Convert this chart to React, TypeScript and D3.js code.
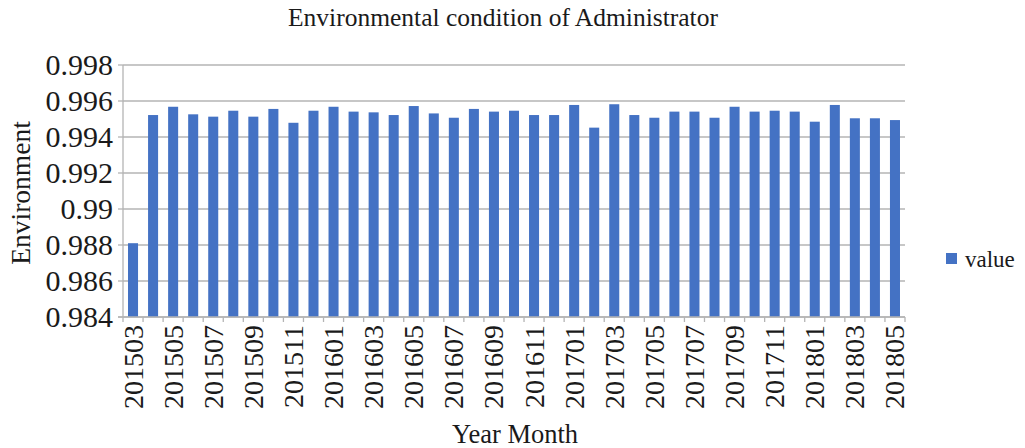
import React from "react";
import * as d3 from "d3";

const months: string[] = [
  "201503","201504","201505","201506","201507","201508","201509","201510","201511","201512",
  "201601","201602","201603","201604","201605","201606","201607","201608","201609","201610","201611","201612",
  "201701","201702","201703","201704","201705","201706","201707","201708","201709","201710","201711","201712",
  "201801","201802","201803","201804","201805",
];
const values: number[] = [
  0.9881, 0.99522, 0.99568, 0.99526, 0.99513, 0.99546, 0.99513, 0.99556, 0.99479, 0.99546,
  0.99568, 0.99541, 0.99537, 0.99522, 0.99572, 0.99531, 0.99507, 0.99556, 0.99541, 0.99546, 0.99522, 0.99522,
  0.99578, 0.99452, 0.99582, 0.99522, 0.99507, 0.99541, 0.99541, 0.99507, 0.99568, 0.99541, 0.99546, 0.99541,
  0.99485, 0.99578, 0.99504, 0.99504, 0.99494,
];
const yTicks: number[] = [0.984, 0.986, 0.988, 0.99, 0.992, 0.994, 0.996, 0.998];

const title = "Environmental condition of Administrator";
const xTitle = "Year Month";
const yTitle = "Environment";
const seriesName = "value";

export default function App() {
  const W = 1025, H = 448;
  const left = 123, right = 905, top = 65, bottom = 317;
  const font = "'Liberation Serif', 'Times New Roman', Times, serif";
  const ts = { fontFamily: font };
  const x = d3.scaleBand<string>().domain(months).range([left, right]).paddingInner(0.5).paddingOuter(0.25);
  const xb = d3.scaleBand<string>().domain(months).range([left, right]);
  const y = d3.scaleLinear().domain([0.984, 0.998]).range([bottom, top]);
  const fmt = (v: number) => String(+v.toFixed(3));
  const color = "#4472C4";
  const grid = "#b4b4b4";
  const ink = "#1a1a1a";
  const yFs = 30;
  const xFs = 28;
  return (
    <svg width={W} height={H} style={{ position: "absolute", left: 0, top: 0, background: "#fff" }}>
      <text x={503} y={26} textAnchor="middle" fontSize={25.5} fill={ink} style={ts}>{title}</text>
      {yTicks.map((t) => (
        <g key={t}>
          <line x1={left} x2={right} y1={y(t)} y2={y(t)} stroke={grid} strokeWidth={1.3} />
          <line x1={left - 5} x2={left} y1={y(t)} y2={y(t)} stroke={grid} strokeWidth={1.3} />
          <text x={113} y={y(t) + yFs * 0.33} textAnchor="end" fontSize={yFs} fill={ink} style={ts}>{fmt(t)}</text>
        </g>
      ))}
      <line x1={left} x2={left} y1={top} y2={bottom} stroke={grid} strokeWidth={1.3} />
      {months.map((m, i) => (
        <rect key={m} x={x(m)} y={y(values[i])} width={x.bandwidth()} height={bottom - y(values[i])} fill={color} />
      ))}
      {months.map((m) => (
        <line key={"t" + m} x1={xb(m)!} x2={xb(m)!} y1={bottom} y2={bottom + 5} stroke={grid} strokeWidth={1.3} />
      ))}
      <line x1={right} x2={right} y1={bottom} y2={bottom + 5} stroke={grid} strokeWidth={1.3} />
      <line x1={left - 5} x2={right} y1={bottom} y2={bottom} stroke={grid} strokeWidth={1.3} />
      {months.map((m, i) =>
        i % 2 === 0 ? (
          <text key={"l" + m} transform={`translate(${xb(m)! + xb.bandwidth() / 2 + xFs * 0.34},${325}) rotate(-90)`}
            textAnchor="end" fontSize={xFs} fill={ink} style={ts}>{m}</text>
        ) : null
      )}
      <text x={515} y={443} textAnchor="middle" fontSize={26.5} fill={ink} style={ts}>{xTitle}</text>
      <text transform={`translate(30,193) rotate(-90)`} textAnchor="middle" fontSize={27.5} fill={ink} style={ts}>{yTitle}</text>
      <rect x={946} y={253} width={11} height={11} fill={color} />
      <text x={965} y={266.5} fontSize={23} fill={ink} style={ts}>{seriesName}</text>
    </svg>
  );
}
